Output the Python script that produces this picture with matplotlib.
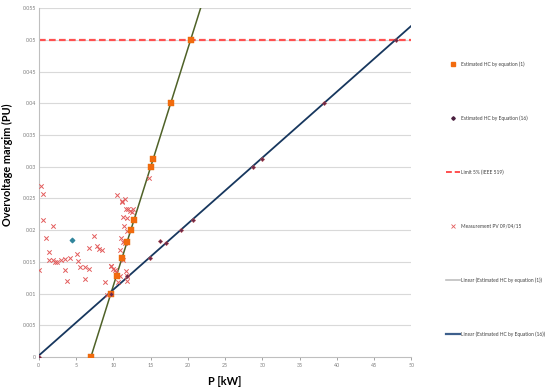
import numpy as np
import matplotlib
matplotlib.use("Agg")
import matplotlib.pyplot as plt
from matplotlib.lines import Line2D

plt.rcParams['font.family'] = ['Lato', 'DejaVu Sans']

# Estimated HC by equation (1)
eq1_p = [7.0, 9.68, 10.44, 11.2, 11.82, 12.36, 12.76, 15.03, 15.34, 17.71, 20.39]
eq1_v = [0.0, 0.01, 0.0127, 0.0156, 0.0182, 0.0200, 0.0216, 0.0300, 0.0313, 0.0400, 0.0500]

# Estimated HC by Equation (16)
eq16_p = [0.0, 9.68, 11.86, 14.99, 16.24, 17.13, 19.14, 20.7, 28.73, 29.9, 38.24, 47.9]
eq16_v = [0.0, 0.01, 0.0127, 0.0156, 0.0183, 0.0179, 0.0200, 0.0216, 0.0300, 0.0313, 0.0400, 0.0500]

# Odd single point (teal)
extra_p = [4.46]
extra_v = [0.0184]

# Measurement PV 09/04/15
meas_p = [0.35, 0.62, 0.53, 1.96, 0.98, 1.42, 1.34, 1.87, 2.23, 2.4, 2.94, 3.48, 4.19,
          0.08, 3.48, 3.75, 5.09, 5.26, 5.53, 6.16, 6.69, 6.16, 6.78, 7.4, 7.85, 8.1,
          8.47, 8.83, 9.72, 9.64, 10.17, 10.4, 10.53, 11.15, 11.24, 11.6, 11.69, 12.04,
          12.67, 12.58, 11.33, 11.9, 11.42, 11.78, 11.06, 11.33, 10.97, 11.6, 11.86,
          11.33, 11.69, 11.78, 11.86, 10.84, 10.6, 10.0, 9.19, 14.77, 12.22]
meas_v = [0.0269, 0.0257, 0.0216, 0.0206, 0.0187, 0.0166, 0.0153, 0.0153, 0.0150, 0.0150,
          0.0153, 0.0155, 0.0156, 0.0137, 0.0137, 0.0120, 0.0163, 0.0152, 0.0142, 0.0142,
          0.0139, 0.0123, 0.0172, 0.0191, 0.0175, 0.0171, 0.0168, 0.0119, 0.0144, 0.0144,
          0.0137, 0.0134, 0.0256, 0.0246, 0.0244, 0.0249, 0.0233, 0.0233, 0.0233, 0.0228,
          0.0220, 0.0219, 0.0207, 0.0198, 0.0187, 0.0182, 0.0168, 0.0180, 0.0183, 0.0153,
          0.0136, 0.0128, 0.0120, 0.0128, 0.0119, 0.0138, 0.0097, 0.0283, 0.0231]

limit = 0.05
xticks = list(range(0, 51, 5))
yticks = [0, 0.005, 0.01, 0.015, 0.02, 0.025, 0.03, 0.035, 0.04, 0.045, 0.05, 0.055]
ytick_labels = ['0', '0.005', '0.01', '0.015', '0.02', '0.025', '0.03', '0.035',
                '0.04', '0.045', '0.05', '0.055']

fig = plt.figure(figsize=(5.5, 3.88), dpi=100)
ax = fig.add_axes([0.0704, 0.080, 0.6776, 0.8986])

grid_c = '#D9D9D9'
for yv in yticks[1:]:
    ax.axhline(yv, color=grid_c, lw=0.8, zorder=0)

# limit line
ax.plot([0, 50], [limit, limit], color='#FF5050', lw=1.6, ls=(0, (3, 1.5)), zorder=2)

# trend lines
c1 = np.polyfit(eq1_p, eq1_v, 1)
x1 = np.array([min(eq1_p), 25])
ax.plot(x1, np.polyval(c1, x1), color='#4F6228', lw=1.1, zorder=3)
c16 = np.polyfit(eq16_p, eq16_v, 1)
x16 = np.array([0, 50])
ax.plot(x16, np.polyval(c16, x16), color='#17375E', lw=1.3, zorder=3)

ax.scatter(meas_p, meas_v, marker='x', s=10, color='#E35C5C', linewidths=0.7, zorder=4)
ax.scatter(eq1_p, eq1_v, marker='s', s=15, color='#F26B0F', edgecolors='#E46C0A',
           linewidths=0.3, zorder=5)
ax.scatter(eq16_p, eq16_v, marker='D', s=5, color='#6B2A4A', edgecolors='#C0504D',
           linewidths=0.3, zorder=6)
ax.scatter(extra_p, extra_v, marker='D', s=5, color='#31859C', zorder=6)

ax.set_xlim(0, 50)
ax.set_ylim(0, 0.055)
ax.set_xticks(xticks)
ax.set_xticklabels([str(t) for t in xticks])
ax.set_yticks(yticks)
ax.set_yticklabels(ytick_labels)
ax.tick_params(axis='both', labelsize=3.8, colors='#7F7F7F', length=2, width=0.5, pad=2)
ax.tick_params(axis='y', length=0)
for s in ['top', 'right']:
    ax.spines[s].set_visible(False)
for s in ['left', 'bottom']:
    ax.spines[s].set_color('#BFBFBF')
    ax.spines[s].set_linewidth(0.8)

ax.set_xlabel('P [kW]', fontsize=7.8, fontweight='bold', labelpad=6)
ax.set_ylabel('Overvoltage margim (PU)', fontsize=7.8, fontweight='bold')
ax.yaxis.set_label_coords(-0.070, 0.55)

handles = [
    Line2D([], [], ls='none', marker='s', ms=2.5, color='#F26B0F'),
    Line2D([], [], ls='none', marker='D', ms=1.8, color='#4B2040'),
    Line2D([], [], color='#FF5050', lw=1.4, ls=(0, (3, 1.5))),
    Line2D([], [], ls='none', marker='x', ms=2.5, color='#E35C5C', mew=0.6),
    Line2D([], [], color='#BFBFBF', lw=1.2),
    Line2D([], [], color='#3D5F8C', lw=1.6),
]
labels = ['Estimated HC by equation (1)', 'Estimated HC by Equation (16)',
          'Limit 5% (IEEE 519)', 'Measurement PV 09/04/15',
          'Linear (Estimated HC by equation (1))', 'Linear (Estimated HC by Equation (16))']
leg = fig.legend(handles, labels, loc='upper left', bbox_to_anchor=(0.807, 0.847),
                 frameon=False, fontsize=3.5, labelspacing=10.0, handlelength=2.9,
                 handletextpad=0.3, borderaxespad=0)
for t in leg.get_texts():
    t.set_color('#404040')

fig.savefig('out.png', dpi=100)
